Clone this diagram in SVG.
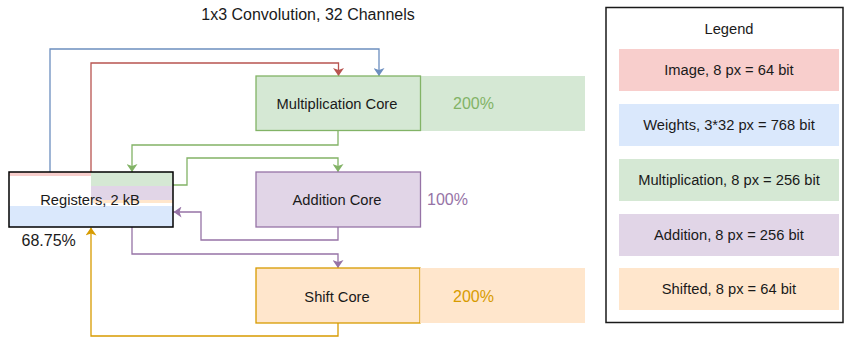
<svg xmlns="http://www.w3.org/2000/svg" width="844" height="337" viewBox="0 0 844 337">
<style>
text{font-family:"Liberation Sans",Arial,sans-serif;fill:#1a1a1a;}
.lbl{font-size:14.7px;text-anchor:middle;}
.pct{font-size:16px;}
.c{fill:none;stroke-width:1.3;}
.red{stroke:#b85450;}
.blue{stroke:#6c8ebf;}
.green{stroke:#82b366;}
.purple{stroke:#9673a6;}
.orange{stroke:#d79b00;}
</style>
<defs>
<marker id="aRed" viewBox="0 0 8 11" refX="8" refY="5.5" markerWidth="8" markerHeight="11" markerUnits="userSpaceOnUse" orient="auto"><path d="M0,0 L8,5.5 L0,11 L2,5.5 Z" fill="#b85450"/></marker>
<marker id="aBlue" viewBox="0 0 8 11" refX="8" refY="5.5" markerWidth="8" markerHeight="11" markerUnits="userSpaceOnUse" orient="auto"><path d="M0,0 L8,5.5 L0,11 L2,5.5 Z" fill="#6c8ebf"/></marker>
<marker id="aGreen" viewBox="0 0 8 11" refX="8" refY="5.5" markerWidth="8" markerHeight="11" markerUnits="userSpaceOnUse" orient="auto"><path d="M0,0 L8,5.5 L0,11 L2,5.5 Z" fill="#82b366"/></marker>
<marker id="aPurple" viewBox="0 0 8 11" refX="8" refY="5.5" markerWidth="8" markerHeight="11" markerUnits="userSpaceOnUse" orient="auto"><path d="M0,0 L8,5.5 L0,11 L2,5.5 Z" fill="#9673a6"/></marker>
<marker id="aOrange" viewBox="0 0 8 11" refX="8" refY="5.5" markerWidth="8" markerHeight="11" markerUnits="userSpaceOnUse" orient="auto"><path d="M0,0 L8,5.5 L0,11 L2,5.5 Z" fill="#d79b00"/></marker>
</defs>
<rect width="844" height="337" fill="#ffffff"/>

<text x="308" y="20" style="font-size:16px;text-anchor:middle;">1x3 Convolution, 32 Channels</text>

<g id="connectors">
<path class="c blue" d="M50,172 V49 H379 V76" marker-end="url(#aBlue)"/>
<path class="c red" d="M91,172 V63 H338.5 V76" marker-end="url(#aRed)"/>
<path class="c green" d="M338,130.5 V145 H132 V172" marker-end="url(#aGreen)"/>
<path class="c green" d="M173,185 H187 V158 H338 V172" marker-end="url(#aGreen)"/>
<path class="c purple" d="M338,227 V240 H201 V212 H173.5" marker-end="url(#aPurple)"/>
<path class="c purple" d="M132,227 V254 H338 V268" marker-end="url(#aPurple)"/>
<path class="c orange" d="M338,323 V336 H91 V227.5" marker-end="url(#aOrange)"/>
</g>

<g id="registers">
<rect x="9" y="172" width="164" height="55" fill="#ffffff"/>
<rect x="9" y="172" width="82" height="4" fill="#f8cecc"/>
<rect x="91" y="172" width="82" height="14" fill="#d5e8d4"/>
<rect x="91" y="186" width="82" height="14" fill="#e1d5e7"/>
<rect x="91" y="200" width="82" height="3" fill="#ffe6cc"/>
<rect x="9" y="206" width="164" height="21" fill="#dae8fc"/>
<rect x="9" y="172" width="164" height="55" fill="none" stroke="#000000" stroke-width="1.5"/>
<text class="lbl" x="90" y="205">Registers, 2 kB</text>
<text class="pct" x="21.5" y="246">68.75%</text>
</g>

<g id="mult">
<rect x="420" y="76" width="165" height="55" fill="#d5e8d4"/>
<rect x="256" y="76" width="164.5" height="54.5" fill="#d5e8d4" stroke="#82b366" stroke-width="1.3"/>
<text class="lbl" x="337" y="108.5">Multiplication Core</text>
<text class="pct" x="453" y="109" style="fill:#82b366">200%</text>
</g>

<g id="add">
<rect x="256" y="172" width="164.5" height="55" fill="#e1d5e7" stroke="#9673a6" stroke-width="1.3"/>
<text class="lbl" x="337" y="205">Addition Core</text>
<text class="pct" x="427" y="205" style="fill:#9673a6">100%</text>
</g>

<g id="shift">
<rect x="256" y="268" width="164" height="55" fill="#ffe6cc" stroke="#d79b00" stroke-width="1.3"/>
<rect x="420.2" y="268" width="164.8" height="55" fill="#ffe6cc"/>
<text class="lbl" x="337" y="301.5">Shift Core</text>
<text class="pct" x="453" y="302" style="fill:#d79b00">200%</text>
</g>

<g id="legend">
<rect x="606" y="7.5" width="237" height="315" fill="#ffffff" stroke="#1a1a1a" stroke-width="1.5"/>
<text class="lbl" x="729" y="34">Legend</text>
<rect x="619" y="49" width="220" height="42" fill="#f8cecc"/>
<text class="lbl" x="729" y="75">Image, 8 px = 64 bit</text>
<rect x="619" y="104" width="220" height="42" fill="#dae8fc"/>
<text class="lbl" x="729" y="130">Weights, 3*32 px = 768 bit</text>
<rect x="619" y="159" width="220" height="42" fill="#d5e8d4"/>
<text class="lbl" x="729" y="185">Multiplication, 8 px = 256 bit</text>
<rect x="619" y="214" width="220" height="42" fill="#e1d5e7"/>
<text class="lbl" x="729" y="240">Addition, 8 px = 256 bit</text>
<rect x="619" y="268" width="220" height="42" fill="#ffe6cc"/>
<text class="lbl" x="729" y="294">Shifted, 8 px = 64 bit</text>
</g>
</svg>
